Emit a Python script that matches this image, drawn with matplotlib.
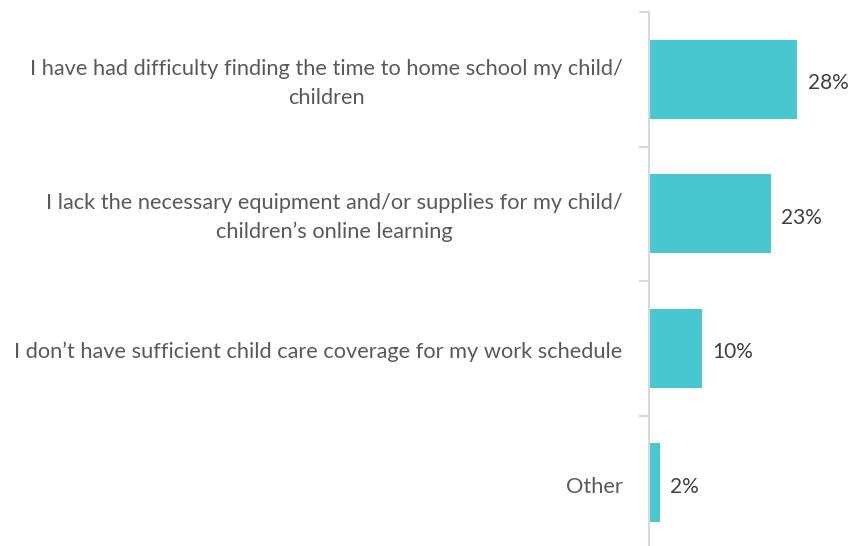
import matplotlib
matplotlib.use("Agg")
import matplotlib.pyplot as plt

categories = [
    "I have had difficulty finding the time to home school my child/\nchildren",
    "I lack the necessary equipment and/or supplies for my child/\nchildren\u2019s online learning",
    "I don\u2019t have sufficient child care coverage for my work schedule",
    "Other",
]
values = [28, 23, 10, 2]
value_labels = ["28%", "23%", "10%", "2%"]

plt.rcParams['font.family'] = ['Lato', 'DejaVu Sans']

W, H = 850, 546
fig = plt.figure(figsize=(W / 100, H / 100), dpi=100)
ax = fig.add_axes([649 / W, 0, (W - 649) / W, (H - 12) / H])

bar_color = "#48C7D0"
y = list(range(len(categories)))
ax.barh(y, values, height=0.59, color=bar_color, zorder=2)

ax.set_ylim(3.47, -0.5)
ax.set_xlim(0, 38.0)

for yi, v, lab in zip(y, values, value_labels):
    ax.text(v + 2.0, yi + 0.03, lab, va="center", ha="left", fontsize=15, color="#404040")

for yi, cat in zip(y, categories):
    ax.text(-5.0, yi + 0.03, cat, va="center", ha="right", multialignment="center",
            fontsize=15.7, color="#595959", linespacing=1.55, transform=ax.transData,
            clip_on=False)

ax.set_yticks([-0.5, 0.5, 1.5, 2.5])
ax.set_yticklabels([])
ax.tick_params(axis="y", length=7, width=1.5, color="#D9D9D9", direction="out")
ax.set_xticks([])
for s in ["top", "right", "bottom"]:
    ax.spines[s].set_visible(False)
ax.spines["left"].set_color("#D9D9D9")
ax.spines["left"].set_linewidth(1.5)

fig.savefig("out.png", dpi=100)
